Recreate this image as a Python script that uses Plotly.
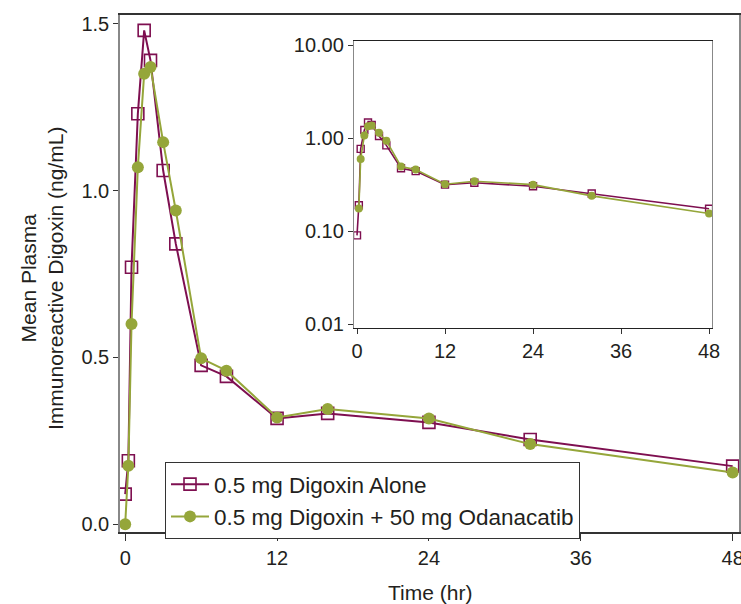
import plotly.graph_objects as go

# Data
time_hr = [0, 0.25, 0.5, 1, 1.5, 2, 3, 4, 6, 8, 12, 16, 24, 32, 48]
digoxin_alone = [0.09, 0.19, 0.77, 1.23, 1.48, 1.39, 1.06, 0.84, 0.476, 0.443,
                 0.317, 0.332, 0.305, 0.254, 0.174]
digoxin_odanacatib = [0.0, 0.175, 0.60, 1.07, 1.35, 1.37, 1.145, 0.94, 0.497, 0.46,
                      0.32, 0.345, 0.317, 0.24, 0.155]

series_names = ["0.5 mg Digoxin Alone", "0.5 mg Digoxin + 50 mg Odanacatib"]
main_yticks = [0.0, 0.5, 1.0, 1.5]
x_ticks = [0, 12, 24, 36, 48]
inset_yticks = [0.01, 0.1, 1, 10]
inset_yticklabels = ["0.01", "0.10", "1.00", "10.00"]

# log-scale inset cannot show zero values
inset_alone = [v if v > 0 else None for v in digoxin_alone]
inset_odanacatib = [v if v > 0 else None for v in digoxin_odanacatib]

MAROON = "#7E0F50"
GREEN = "#95A63A"
FONT = "Liberation Sans, Arial, sans-serif"
TXT = "#231F20"
TICK = 20

fig = go.Figure()

# Main plot
fig.add_trace(go.Scatter(
    x=time_hr, y=digoxin_alone, name=series_names[0], mode="lines+markers",
    line=dict(color=MAROON, width=2),
    marker=dict(symbol="square-open", size=12, color=MAROON, line=dict(width=1.6, color=MAROON)),
    xaxis="x", yaxis="y"))
fig.add_trace(go.Scatter(
    x=time_hr, y=digoxin_odanacatib, name=series_names[1], mode="lines+markers",
    line=dict(color=GREEN, width=2),
    marker=dict(symbol="circle", size=12, color=GREEN),
    xaxis="x", yaxis="y"))

# Inset (log scale)
fig.add_trace(go.Scatter(
    x=time_hr, y=inset_alone, name=series_names[0], mode="lines+markers",
    line=dict(color=MAROON, width=1.6),
    marker=dict(symbol="square-open", size=7, color=MAROON, line=dict(width=1.4, color=MAROON)),
    xaxis="x2", yaxis="y2", showlegend=False))
fig.add_trace(go.Scatter(
    x=time_hr, y=inset_odanacatib, name=series_names[1], mode="lines+markers",
    line=dict(color=GREEN, width=1.6),
    marker=dict(symbol="circle", size=8, color=GREEN),
    xaxis="x2", yaxis="y2", showlegend=False))

L, R, T, B = 120, 2, 15, 72
W, H = 741, 604
pw, ph = W - L - R, H - T - B

def px_x(p):
    return (p - L) / pw

def px_y(p):
    return (H - B - p) / ph

common_axis = dict(showgrid=False, zeroline=False, automargin=False,
                   ticklabeloverflow="allow",
                   ticks="outside", tickcolor="#333", tickfont=dict(size=TICK))

fig.update_layout(
    width=W, height=H, autosize=False,
    margin=dict(l=L, r=R, t=T, b=B, pad=0, autoexpand=False),
    paper_bgcolor="white", plot_bgcolor="white",
    font=dict(family=FONT, size=TICK, color=TXT),
    showlegend=True,
    legend=dict(
        x=px_x(165), y=px_y(462), xanchor="left", yanchor="top",
        bordercolor="#333", borderwidth=1, bgcolor="white",
        font=dict(family=FONT, size=22.5, color=TXT),
        tracegroupgap=0, itemwidth=38),
    xaxis=dict(
        domain=[0, 1], range=[-0.41, 48.5], tickvals=x_ticks,
        showline=True, linecolor="#333", linewidth=1.5, mirror=True,
        ticklen=7, **common_axis),
    yaxis=dict(
        domain=[0, 1], range=[-0.0234, 1.526], tickvals=main_yticks, tickformat=".1f",
        showline=True, linecolor="#888", linewidth=1.5, mirror=True,
        ticklen=5, **common_axis),
    xaxis2=dict(
        domain=[px_x(354), px_x(712)], range=[-0.41, 48.4], tickvals=x_ticks,
        anchor="y2", showline=True, linecolor="#222", linewidth=1.3, mirror=True,
        ticklen=5, **common_axis),
    yaxis2=dict(
        domain=[px_y(328), px_y(41)], type="log", range=[-2.043, 1.048],
        tickvals=inset_yticks, ticktext=inset_yticklabels,
        anchor="x2", showline=True, linecolor="#888", linewidth=1.3, mirror=True,
        ticklen=5, **common_axis),
    annotations=[
        dict(text="Mean Plasma<br>Immunoreactive Digoxin (ng/mL)", textangle=-90,
             xref="paper", yref="paper", x=px_x(42), y=px_y(278),
             xanchor="center", yanchor="middle", showarrow=False,
             font=dict(family=FONT, size=21, color=TXT)),
        dict(text="Time (hr)", xref="paper", yref="paper",
             x=px_x(430), y=px_y(592), xanchor="center", yanchor="middle",
             showarrow=False, font=dict(family=FONT, size=21, color=TXT)),
    ],
)

fig.write_html(
    "out.html",
    config={"displayModeBar": False, "responsive": False},
    post_script="document.body.style.margin='0';document.body.style.overflow='hidden';",
)
